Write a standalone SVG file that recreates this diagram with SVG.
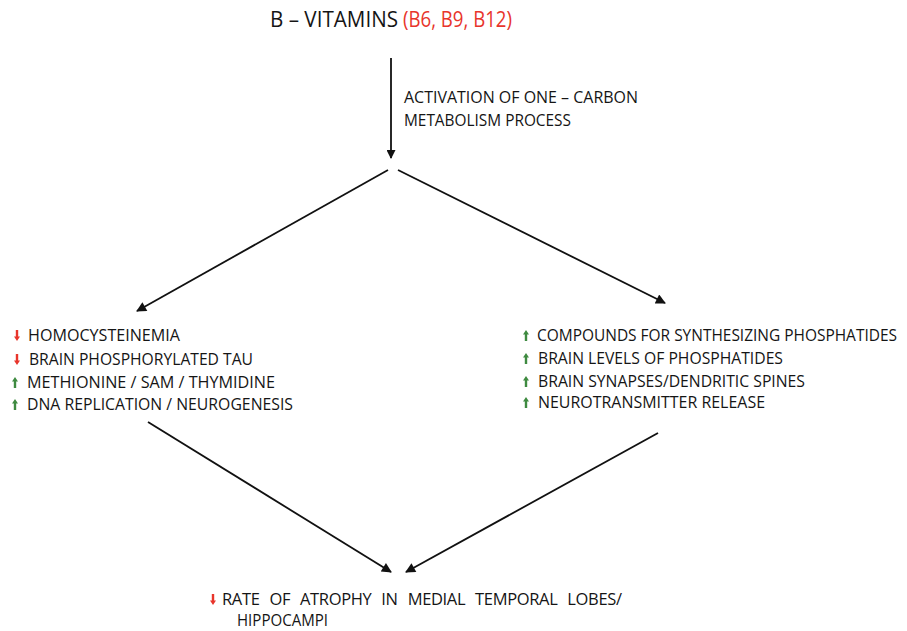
<svg xmlns="http://www.w3.org/2000/svg" width="907" height="631" viewBox="0 0 907 631">
<defs>
<marker id="ah" viewBox="0 0 10 10" refX="9" refY="5" markerWidth="13" markerHeight="10" markerUnits="userSpaceOnUse" orient="auto">
<path d="M0,0 L10,5 L0,10 z" fill="#111"/>
</marker>
<marker id="ahb" viewBox="0 0 10 10" refX="9" refY="5" markerWidth="10" markerHeight="9" markerUnits="userSpaceOnUse" orient="auto">
<path d="M0,0 L10,5 L0,10 z" fill="#111"/>
</marker>
<symbol id="up" viewBox="0 0 6 12" overflow="visible">
<path d="M3,0 L6,4.5 L4.2,4.5 L4.2,11 L1.8,11 L1.8,4.5 L0,4.5 z"/>
</symbol>
<symbol id="down" viewBox="0 0 6 12" overflow="visible">
<path d="M3,11 L6,6.5 L4.2,6.5 L4.2,0 L1.8,0 L1.8,6.5 L0,6.5 z"/>
</symbol>
</defs>
<style>
text{font-family:"Open Sans",Lato,"Liberation Sans",sans-serif;fill:#151515}
.t{font-size:22px}
.l{font-size:16.5px}
.red{fill:#e8352b}
.grn{fill:#3e8a40}
.conn line{stroke:#111;stroke-width:1.8}
</style>
<rect width="907" height="631" fill="#fff"/>
<g id="title">
<text class="t" x="270" y="27" textLength="128" lengthAdjust="spacingAndGlyphs">B – VITAMINS</text>
<text class="t red" x="403" y="27" textLength="109" lengthAdjust="spacingAndGlyphs">(B6, B9, B12)</text>
</g>
<g id="activation">
<text class="l" x="404" y="103" textLength="234" lengthAdjust="spacingAndGlyphs">ACTIVATION OF ONE – CARBON</text>
<text class="l" x="404" y="126" textLength="167" lengthAdjust="spacingAndGlyphs">METABOLISM PROCESS</text>
</g>
<g id="left-effects">
<use href="#down" x="14" y="330" width="6" height="12" class="red"/>
<text class="l" x="28" y="341" textLength="152" lengthAdjust="spacingAndGlyphs">HOMOCYSTEINEMIA</text>
<use href="#down" x="14" y="354" width="6" height="12" class="red"/>
<text class="l" x="29" y="365" textLength="224" lengthAdjust="spacingAndGlyphs">BRAIN PHOSPHORYLATED TAU</text>
<use href="#up" x="12" y="377" width="6" height="12" class="grn"/>
<text class="l" x="27" y="388" textLength="248" lengthAdjust="spacingAndGlyphs">METHIONINE / SAM / THYMIDINE</text>
<use href="#up" x="12" y="399" width="6" height="12" class="grn"/>
<text class="l" x="27" y="410" textLength="266" lengthAdjust="spacingAndGlyphs">DNA REPLICATION / NEUROGENESIS</text>
</g>
<g id="right-effects">
<use href="#up" x="523" y="330" width="6" height="12" class="grn"/>
<text class="l" transform="translate(537,341) scale(0.8,1)" x="0" y="0" textLength="450" lengthAdjust="spacingAndGlyphs">COMPOUNDS FOR SYNTHESIZING PHOSPHATIDES</text>
<use href="#up" x="523" y="353" width="6" height="12" class="grn"/>
<text class="l" x="538" y="364" textLength="245" lengthAdjust="spacingAndGlyphs">BRAIN LEVELS OF PHOSPHATIDES</text>
<use href="#up" x="523" y="376" width="6" height="12" class="grn"/>
<text class="l" x="538" y="387" textLength="267" lengthAdjust="spacingAndGlyphs">BRAIN SYNAPSES/DENDRITIC SPINES</text>
<use href="#up" x="523" y="397" width="6" height="12" class="grn"/>
<text class="l" x="538" y="408" textLength="227" lengthAdjust="spacingAndGlyphs">NEUROTRANSMITTER RELEASE</text>
</g>
<g id="outcome">
<use href="#down" x="210" y="594" width="6" height="12" class="red"/>
<text class="l" x="222" y="605" textLength="400" lengthAdjust="spacing" word-spacing="6">RATE OF ATROPHY IN MEDIAL TEMPORAL LOBES/</text>
<text class="l" x="237" y="626" textLength="91" lengthAdjust="spacingAndGlyphs">HIPPOCAMPI</text>
</g>
<g id="connectors" class="conn">
<line x1="391" y1="58" x2="391" y2="158" marker-end="url(#ahb)"/>
<line x1="388" y1="170" x2="137" y2="311" marker-end="url(#ah)"/>
<line x1="398" y1="170" x2="665" y2="303" marker-end="url(#ah)"/>
<line x1="148" y1="422" x2="391" y2="572" marker-end="url(#ah)"/>
<line x1="658" y1="433" x2="406" y2="572" marker-end="url(#ah)"/>
</g>
</svg>
